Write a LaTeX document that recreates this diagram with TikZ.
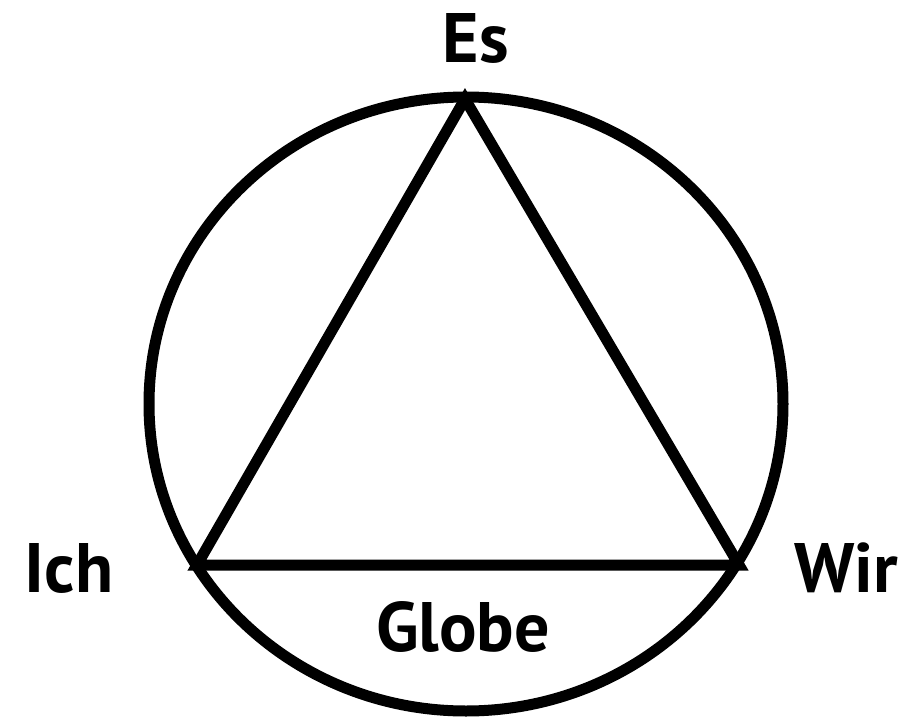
\documentclass[tikz,border=0pt]{standalone}
\usepackage{fontspec}
\setmainfont{PT Sans}
\usepackage{tikz}
\usetikzlibrary{calc,positioning}
\definecolor{InkBlack}{RGB}{0,0,0}
\newcommand{\lab}[1]{\textbf{#1}}

\begin{document}
\begin{tikzpicture}[x=1pt,y=-1pt,line width=11pt,
  word/.style={anchor=base,inner sep=0pt,font=\fontsize{70}{80}\selectfont}]
\useasboundingbox (0,0) rectangle (906,720);
\draw[InkBlack] (466,404) ellipse [x radius=317,y radius=307];
\coordinate (top) at (465,99);
\coordinate (left) at (197,565);
\coordinate (right) at (739,565);
\draw[InkBlack] (top)--(right)--(left)--cycle;
\node[word] (es) at (476,62){\lab{Es}};
\node[word] (ich) at (69,592){\lab{Ich}};
\node[word] (wir) at (846,592){\lab{Wir}};
\node[word] (globe) at (463,651){\lab{Globe}};
\end{tikzpicture}
\end{document}
